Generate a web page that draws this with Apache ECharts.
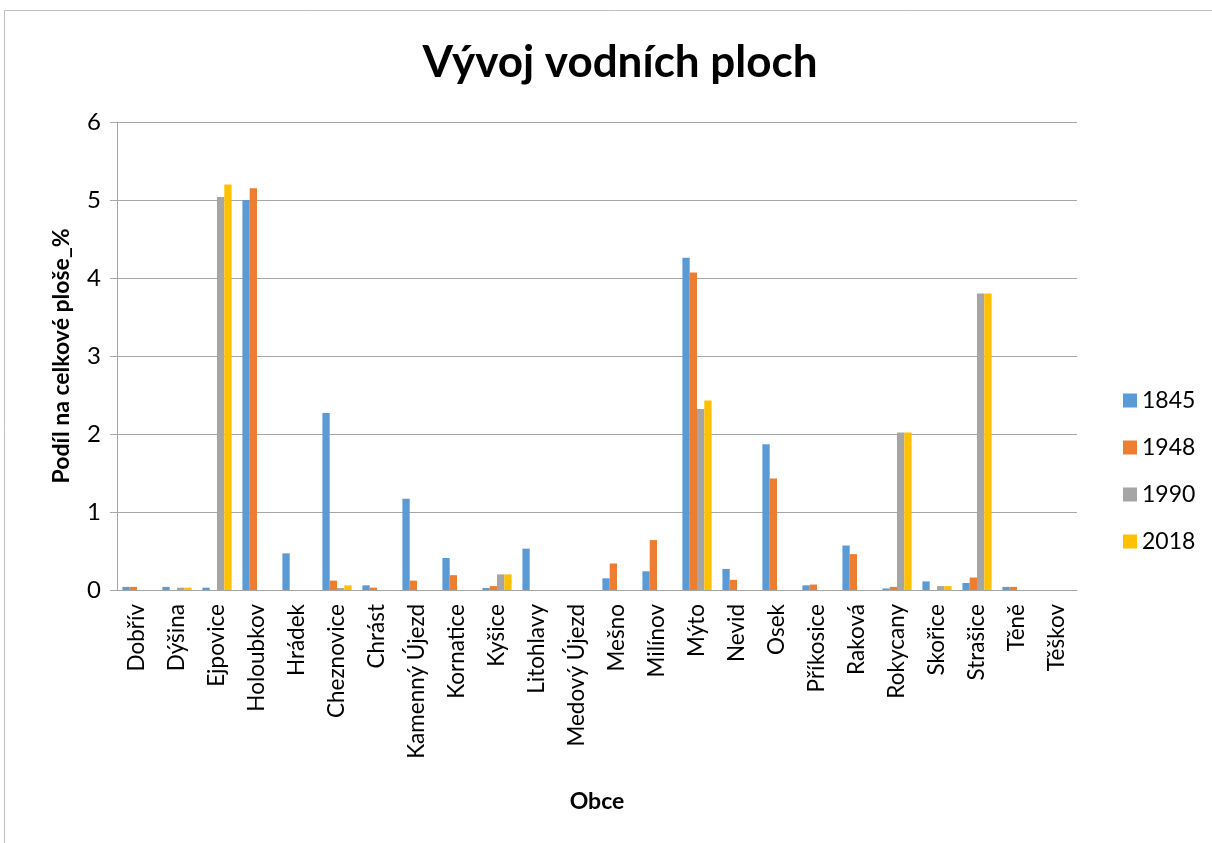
<!DOCTYPE html>
<html>
<head>
<meta charset="utf-8">
<script src="https://cdn.jsdelivr.net/npm/echarts@6/dist/echarts.min.js"></script>
<style>
html,body{margin:0;padding:0;background:#fff;}
#chart{width:1212px;height:843px;}
</style>
</head>
<body>
<div id="chart"></div>
<script>
const categories = ['Dobřív','Dýšina','Ejpovice','Holoubkov','Hrádek','Cheznovice','Chrást','Kamenný Újezd','Kornatice','Kyšice','Litohlavy','Medový Újezd','Mešno','Milínov','Mýto','Nevid','Osek','Příkosice','Raková','Rokycany','Skořice','Strašice','Těně','Těškov'];
const s1845 = [0.04,0.04,0.03,5.0,0.47,2.27,0.06,1.17,0.41,0.025,0.53,0,0.15,0.24,4.26,0.27,1.87,0.06,0.57,0.02,0.11,0.09,0.04,0];
const s1948 = [0.04,0,0,5.15,0,0.12,0.03,0.12,0.19,0.05,0,0,0.34,0.64,4.07,0.13,1.43,0.07,0.46,0.04,0,0.16,0.04,0];
const s1990 = [0,0.03,5.04,0,0,0.025,0,0,0,0.2,0,0,0,0,2.32,0,0,0,0,2.02,0.05,3.8,0,0];
const s2018 = [0,0.03,5.2,0,0,0.06,0,0,0,0.2,0,0,0,0,2.43,0,0,0,0,2.02,0.05,3.8,0,0];
const seriesNames = ['1845','1948','1990','2018'];
const colors = ['#5b9bd5','#ed7d31','#a5a5a5','#ffc000'];
const yTicks = [0,1,2,3,4,5,6];

const font = 'Lato, "Open Sans", sans-serif';
const chart = echarts.init(document.getElementById('chart'));
const data = [s1845, s1948, s1990, s2018];
chart.setOption({
  animation:false,
  backgroundColor:'#fff',
  color:colors,
  title:{text:'Vývoj vodních ploch',left:615,top:36,textAlign:'center',
    textStyle:{fontFamily:font,fontSize:44,fontWeight:'bold',color:'#000'}},
  graphic:[{type:'rect',shape:{x:4.5,y:10.5,width:1300,height:900},
    style:{fill:'none',stroke:'#bfbfbf',lineWidth:1},silent:true}],
  legend:{orient:'vertical',left:1118,top:384,itemGap:24,itemWidth:14,itemHeight:14,
    icon:'rect',data:seriesNames,
    textStyle:{fontFamily:font,fontSize:23,color:'#000',padding:[0,0,0,0]}},
  grid:{left:117,right:135,top:122,bottom:253},
  xAxis:{type:'category',data:categories,name:'Obce',nameLocation:'middle',nameGap:200,
    nameTextStyle:{fontFamily:font,fontSize:23,fontWeight:'bold',color:'#000'},
    axisLine:{lineStyle:{color:'#a6a6a6'}},axisTick:{show:false},
    axisLabel:{rotate:90,interval:0,fontFamily:font,fontSize:22.5,color:'#000',margin:14}},
  yAxis:{type:'value',min:0,max:6,interval:1,name:'Podíl na celkové ploše_%',nameLocation:'middle',nameGap:44,
    nameTextStyle:{fontFamily:font,fontSize:23,fontWeight:'bold',color:'#000'},
    axisLine:{show:true,lineStyle:{color:'#a6a6a6'}},
    axisTick:{show:true,inside:false,length:7,lineStyle:{color:'#a6a6a6'}},
    splitLine:{lineStyle:{color:'#a6a6a6'}},
    axisLabel:{fontFamily:font,fontSize:24,color:'#000',margin:16,
      formatter:v=>yTicks.includes(v)?String(v):''}},
  series:seriesNames.map((n,i)=>({name:n,type:'bar',data:data[i],barGap:'0%',barCategoryGap:'27%',
    itemStyle:{color:colors[i]}}))
});
</script>
</body>
</html>
